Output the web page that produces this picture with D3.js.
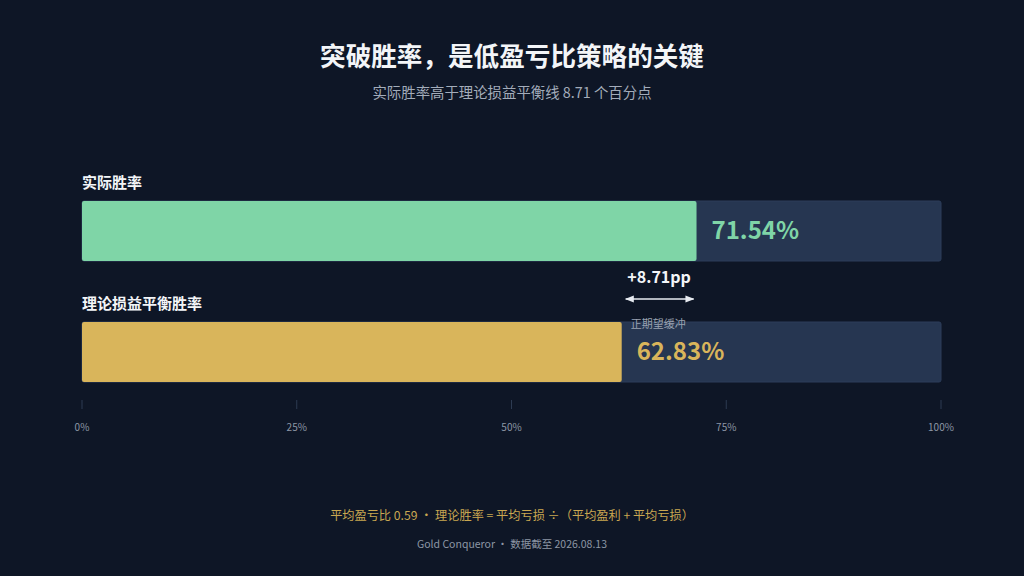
<!DOCTYPE html>
<html><head><meta charset="utf-8">
<script src="https://cdn.jsdelivr.net/npm/d3@7"></script>
<style>
html,body{margin:0;padding:0;background:#0e1626;}
svg{display:block;font-family:"Noto Sans CJK SC","Noto Sans",sans-serif;}
</style></head>
<body>
<svg id="c" width="1024" height="576"></svg>
<script>
const categories = ["实际胜率", "理论损益平衡胜率"];
const values = [71.54, 62.83];
const colors = ["#7fd5a7", "#d9b55b"];
const tickValues = [0, 25, 50, 75, 100];
const gapLabel = "+8.71pp";
const gapNote = "正期望缓冲";
const title = "突破胜率，是低盈亏比策略的关键";
const subtitle = "实际胜率高于理论损益平衡线 8.71 个百分点";
const footer1 = "平均盈亏比 0.59 · 理论胜率 = 平均亏损 ÷（平均盈利 + 平均亏损）";
const footer2 = "Gold Conqueror · 数据截至 2026.08.13";

const svg = d3.select("#c");
svg.append("rect").attr("width",1024).attr("height",576).attr("fill","#0e1626");

const x = d3.scaleLinear().domain([0,100]).range([82,941]);
const barTop = [201, 322];
const barH = 60;

svg.append("text").attr("x",512).attr("y",66).attr("text-anchor","middle")
  .attr("fill","#f3f5f8").attr("font-size",25.6).attr("font-weight",700).text(title);
svg.append("text").attr("x",512).attr("y",98).attr("text-anchor","middle")
  .attr("fill","#a3acba").attr("font-size",14.4).text(subtitle);

categories.forEach((c,i)=>{
  const t = barTop[i];
  svg.append("text").attr("x",x(0)).attr("y",t-13).attr("fill","#f3f5f8")
    .attr("font-size",15).attr("font-weight",700).text(c);
  svg.append("rect").attr("x",x(0)).attr("y",t).attr("width",x(100)-x(0)).attr("height",barH)
    .attr("rx",2).attr("fill","#263651").attr("stroke","#2c3d5a").attr("stroke-width",1);
  svg.append("rect").attr("x",x(0)).attr("y",t).attr("width",x(values[i])-x(0)).attr("height",barH)
    .attr("rx",2).attr("fill",colors[i]);
  svg.append("text").attr("x",x(values[i])+15).attr("y",t+barH/2).attr("dy","0.35em")
    .attr("fill",colors[i]).attr("font-size",24).attr("font-weight",700).text(values[i].toFixed(2)+"%");
});

const ax0 = x(values[1]) + 4, ax1 = x(values[0]) - 3;
const amid = (x(values[1]) + x(values[0]))/2;
svg.append("text").attr("x",amid).attr("y",283).attr("text-anchor","middle")
  .attr("fill","#f3f5f8").attr("font-size",16).attr("font-weight",700).text(gapLabel);
svg.append("defs").html(
 '<marker id="ah" viewBox="0 0 10 10" refX="9" refY="5" markerWidth="6" markerHeight="6" orient="auto-start-reverse"><path d="M0,1 L10,5 L0,9 z" fill="#e8ecf2"/></marker>');
svg.append("line").attr("x1",ax0).attr("x2",ax1).attr("y1",299).attr("y2",299)
  .attr("stroke","#e8ecf2").attr("stroke-width",1.5)
  .attr("marker-start","url(#ah)").attr("marker-end","url(#ah)");
svg.append("text").attr("x",x(values[1])+9).attr("y",328)
  .attr("fill","#9aa3b1").attr("font-size",11).text(gapNote);

const ax = svg.append("g").attr("transform","translate(0,400)");
tickValues.forEach(v=>{
  ax.append("line").attr("x1",x(v)).attr("x2",x(v)).attr("y1",0).attr("y2",9)
    .attr("stroke","#2d3b52").attr("stroke-width",1);
  ax.append("text").attr("x",x(v)).attr("y",31).attr("text-anchor","middle")
    .attr("fill","#8d96a5").attr("font-size",10).text(v+"%");
});

svg.append("text").attr("x",512).attr("y",520).attr("text-anchor","middle")
  .attr("fill","#c9a751").attr("font-size",12.2).text(footer1);
svg.append("text").attr("x",512).attr("y",548).attr("text-anchor","middle")
  .attr("fill","#8d96a5").attr("font-size",10.5).text(footer2);
</script>
</body></html>
